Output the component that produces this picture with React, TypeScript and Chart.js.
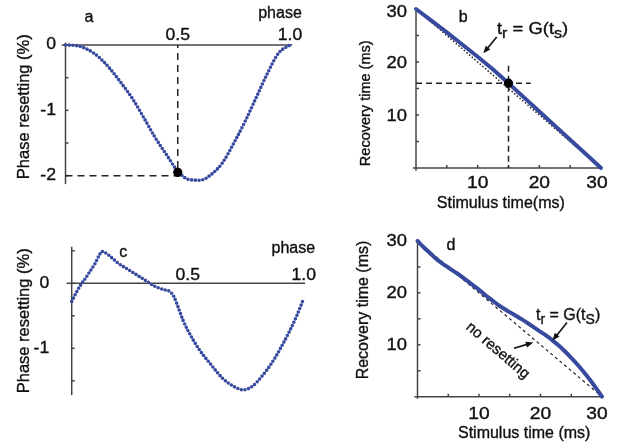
import React, { useEffect, useRef } from 'react';
import { Chart, registerables } from 'chart.js';

Chart.register(...registerables);

const FONT = '"Liberation Sans", Arial, Helvetica, sans-serif';
const BLUE = '#384a9e';
const AXIS = '#444444';
const INK = '#111111';
const W = 618;
const H = 447;

// ---------- Panel a : phase resetting curve ----------
const aPhase = [0, 0.05, 0.1, 0.15, 0.2, 0.25, 0.3, 0.35, 0.4, 0.45, 0.5, 0.55, 0.6, 0.65, 0.7, 0.75, 0.8, 0.85, 0.9, 0.95, 1.0];
const aReset = [0, -0.01, -0.07, -0.19, -0.37, -0.59, -0.83, -1.12, -1.42, -1.68, -1.93, -2.06, -2.07, -1.98, -1.8, -1.5, -1.17, -0.8, -0.43, -0.12, 0];
const aMarkPhase = [0.5];
const aMarkReset = [-1.95];
const aGuideLevel = [-2];
const aXTicks = [0.5, 1.0];
const aXTickLabels = ['0.5', '1.0'];
const aYTicks = [0, -1, -2];
const aYTickLabels = ['0', '-1', '-2'];
const aYMinorTicks = [0, -0.5, -1, -1.5, -2];

// ---------- Panel b : recovery vs stimulus time ----------
const bStim = [0, 2.5, 5, 7.5, 10, 12.5, 15, 17.5, 20, 22.5, 25, 27.5, 30];
const bRec = [30, 27.8, 25.6, 23.3, 21.0, 18.6, 16.0, 13.33, 10.67, 8.0, 5.33, 2.67, 0];
const bNoResetStim = [0, 30];
const bNoResetRec = [30, 0];
const bMarkStim = [15];
const bMarkRec = [16];
const bGuideEnd = [18.6, 19.3];
const bTicks = [10, 20, 30];
const bTickLabels = ['10', '20', '30'];
const bMinorTicks = [5, 10, 15, 20, 25];

// ---------- Panel c : phase resetting curve ----------
const cPhase = [0, 0.02, 0.04, 0.06, 0.08, 0.1, 0.12, 0.13, 0.14, 0.16, 0.18, 0.2, 0.24, 0.28, 0.32, 0.36, 0.4, 0.42, 0.44, 0.46, 0.48, 0.5, 0.55, 0.6, 0.65, 0.7, 0.74, 0.78, 0.82, 0.86, 0.9, 0.94, 0.97, 0.995];
const cReset = [-0.28, -0.14, -0.02, 0.08, 0.19, 0.3, 0.44, 0.49, 0.48, 0.43, 0.37, 0.31, 0.22, 0.13, 0.04, -0.05, -0.1, -0.12, -0.2, -0.38, -0.57, -0.72, -1.02, -1.25, -1.46, -1.59, -1.64, -1.58, -1.43, -1.24, -1.0, -0.73, -0.5, -0.28];
const cXTicks = [0.5, 1.0];
const cXTickLabels = ['0.5', '1.0'];
const cYTicks = [0, -1];
const cYTickLabels = ['0', '-1'];
const cYMinorTicks = [0.5, 0, -0.5, -1, -1.5];

// ---------- Panel d : recovery vs stimulus time ----------
const dStim = [0, 1, 2, 3, 4, 5, 6, 7, 8, 9, 10, 11, 12, 13, 14, 15, 16, 17, 18, 19, 20, 21, 22, 23, 24, 25, 26, 27, 28, 29, 30];
const dRec = [30, 28.8, 27.7, 26.6, 25.7, 24.9, 24.1, 23.3, 22.4, 21.5, 20.6, 19.6, 18.7, 17.8, 17.0, 16.3, 15.6, 14.9, 14.1, 13.3, 12.5, 11.7, 10.8, 9.8, 8.7, 7.5, 6.2, 4.8, 3.3, 1.7, 0];
const dNoResetStim = [0, 30];
const dNoResetRec = [30, 0];
const dTicks = [10, 20, 30];
const dTickLabels = ['10', '20', '30'];
const dMinorTicks = [5, 10, 15, 20, 25];

// ---------- helpers ----------
const pts = (xs: number[], ys: number[]) => xs.map((x, i) => ({ x, y: ys[i] }));

function txt(ctx: CanvasRenderingContext2D, s: string, x: number, y: number, o: any = {}) {
  const { size = 16, align = 'center', base = 'alphabetic', rot = 0, sx = 1, color = INK } = o;
  ctx.save();
  ctx.translate(x, y);
  if (rot) ctx.rotate(rot);
  if (sx !== 1) ctx.scale(sx, 1);
  ctx.font = `${size}px ${FONT}`;
  ctx.fillStyle = color;
  ctx.strokeStyle = color;
  ctx.lineWidth = 0.35;
  ctx.textAlign = align;
  ctx.textBaseline = base;
  ctx.fillText(s, 0, 0);
  ctx.strokeText(s, 0, 0);
  ctx.restore();
}

function rich(ctx: CanvasRenderingContext2D, parts: [string, boolean][], x: number, y: number, size: number, subSize: number, sx: number) {
  let cx = x;
  for (const [s, sub] of parts) {
    const sz = sub ? subSize : size;
    ctx.save();
    ctx.font = `${sz}px ${FONT}`;
    const w = ctx.measureText(s).width * sx;
    ctx.restore();
    txt(ctx, s, cx, sub ? y + 4 : y, { size: sz, align: 'left', sx });
    cx += w;
  }
}

function seg(ctx: CanvasRenderingContext2D, x1: number, y1: number, x2: number, y2: number, color = AXIS, w = 1.5) {
  ctx.save();
  ctx.strokeStyle = color;
  ctx.lineWidth = w;
  ctx.beginPath();
  ctx.moveTo(x1, y1);
  ctx.lineTo(x2, y2);
  ctx.stroke();
  ctx.restore();
}

function arrow(ctx: CanvasRenderingContext2D, x1: number, y1: number, x2: number, y2: number, w = 1.6, head = 8) {
  const a = Math.atan2(y2 - y1, x2 - x1);
  ctx.save();
  ctx.strokeStyle = INK;
  ctx.fillStyle = INK;
  ctx.lineWidth = w;
  ctx.beginPath();
  ctx.moveTo(x1, y1);
  ctx.lineTo(x2 - Math.cos(a) * head * 0.7, y2 - Math.sin(a) * head * 0.7);
  ctx.stroke();
  ctx.beginPath();
  ctx.moveTo(x2, y2);
  ctx.lineTo(x2 - head * Math.cos(a - 0.38), y2 - head * Math.sin(a - 0.38));
  ctx.lineTo(x2 - head * Math.cos(a + 0.38), y2 - head * Math.sin(a + 0.38));
  ctx.closePath();
  ctx.fill();
  ctx.restore();
}

type Draw = (ctx: CanvasRenderingContext2D, X: (v: number) => number, Y: (v: number) => number) => void;

function decor(under: Draw, over: Draw) {
  const run = (chart: any, fn: Draw) => {
    const ctx = chart.ctx as CanvasRenderingContext2D;
    const X = (v: number) => chart.scales.x.getPixelForValue(v);
    const Y = (v: number) => chart.scales.y.getPixelForValue(v);
    ctx.save();
    fn(ctx, X, Y);
    ctx.restore();
  };
  return {
    id: 'decor',
    beforeDatasetsDraw(chart: any) { run(chart, under); },
    afterDatasetsDraw(chart: any) { run(chart, over); },
  };
}

// plot area given in page pixels: left, right, top, bottom
function baseOptions(area: [number, number, number, number], xr: [number, number], yr: [number, number]) {
  return {
    responsive: false,
    animation: false,
    devicePixelRatio: 1,
    events: [],
    layout: { padding: { left: area[0], right: W - area[1], top: area[2], bottom: H - area[3] } },
    plugins: { legend: { display: false }, tooltip: { enabled: false }, title: { display: false } },
    scales: {
      x: { type: 'linear', min: xr[0], max: xr[1], display: false },
      y: { type: 'linear', min: yr[0], max: yr[1], display: false },
    },
  };
}

const dotted = {
  borderColor: BLUE,
  borderWidth: 3.6,
  borderDash: [0, 3.7],
  borderCapStyle: 'round',
  pointRadius: 0,
  cubicInterpolationMode: 'monotone',
  fill: false,
  clip: false,
};

const markDot = {
  showLine: false,
  pointRadius: 4.6,
  pointBackgroundColor: '#000',
  pointBorderColor: '#000',
  pointBorderWidth: 0,
  clip: false,
};

const guide = (dash: number[], w = 1.5) => ({
  borderColor: '#222',
  borderWidth: w,
  borderDash: dash,
  pointRadius: 0,
  fill: false,
  tension: 0,
  clip: false,
});

// ---------- chart configs ----------
function configA() {
  return {
    type: 'line',
    data: {
      datasets: [
        { ...markDot, data: pts(aMarkPhase, aMarkReset) },
        { ...dotted, data: pts(aPhase, aReset) },
        { ...guide([7, 5]), data: [{ x: 0, y: aGuideLevel[0] }, { x: aMarkPhase[0], y: aGuideLevel[0] }, { x: aMarkPhase[0], y: 0 }] },
      ],
    },
    options: baseOptions([65.5, 290, 38.5, 188.7], [0, 1], [-2.2, 0.1]),
    plugins: [
      decor(
        (ctx, X, Y) => {
          const x0 = X(0), y0 = Y(0);
          seg(ctx, X(-0.017), y0, X(1.01), y0);
          seg(ctx, x0, Y(0.035), x0, Y(-2.13));
          aYMinorTicks.forEach((v) => seg(ctx, x0, Y(v), x0 + 3, Y(v)));
        },
        (ctx, X, Y) => {
          const x0 = X(0), y0 = Y(0);
          aYTicks.forEach((v, i) => txt(ctx, aYTickLabels[i], x0 - 9.5, Y(v), { align: 'right', base: 'middle', sx: 1.1 }));
          aXTicks.forEach((v, i) => txt(ctx, aXTickLabels[i], X(v), y0 - 5.5, { sx: 1.1 }));
          txt(ctx, 'phase', 280, 17.5);
          txt(ctx, 'a', 89, 21.5);
          txt(ctx, 'Phase resetting (%)', 28.5, 106.7, { rot: -Math.PI / 2, size: 16.5 });
        }
      ),
    ],
  };
}

function configB() {
  return {
    type: 'line',
    data: {
      datasets: [
        { ...markDot, data: pts(bMarkStim, bMarkRec) },
        { borderColor: BLUE, borderWidth: 4, pointRadius: 0, tension: 0, fill: false, clip: false, borderCapStyle: 'round', data: pts(bStim, bRec) },
        { ...guide([1.5, 2], 1.5), data: pts(bNoResetStim, bNoResetRec) },
        { ...guide([6, 4]), data: [{ x: 0, y: bMarkRec[0] }, { x: bGuideEnd[0], y: bMarkRec[0] }] },
        { ...guide([6, 4]), data: [{ x: bMarkStim[0], y: bGuideEnd[1] }, { x: bMarkStim[0], y: 0 }] },
      ],
    },
    options: baseOptions([416, 601, 9, 168], [0, 30], [0, 30]),
    plugins: [
      decor(
        (ctx, X, Y) => {
          const x0 = X(0), y0 = Y(0);
          seg(ctx, X(-0.5), y0, X(30), y0);
          seg(ctx, x0, Y(30.2), x0, Y(-0.5));
          bMinorTicks.forEach((v) => {
            seg(ctx, X(v), y0, X(v), y0 - 3);
            seg(ctx, x0, Y(v), x0 + 3, Y(v));
          });
        },
        (ctx, X, Y) => {
          const x0 = X(0), y0 = Y(0);
          bTicks.forEach((v, i) => txt(ctx, bTickLabels[i], x0 - 9, Y(v) + (v === 30 ? 4 : 2), { align: 'right', base: 'middle', sx: 1.15 }));
          bTicks.forEach((v, i) => txt(ctx, bTickLabels[i], X(v) - (v === 30 ? 4 : 0), y0 + 20.3, { sx: 1.2 }));
          txt(ctx, 'Stimulus time(ms)', 500.8, 208);
          txt(ctx, 'Recovery time (ms)', 370, 103.3, { rot: -Math.PI / 2, size: 14.5 });
          txt(ctx, 'b', 463.3, 21.7);
          rich(ctx, [['t', false], ['r', true], [' = G(t', false], ['s', true], [')', false]], 497, 34, 16, 14, 1.15);
          arrow(ctx, 496.7, 37, 483.3, 53.3);
        }
      ),
    ],
  };
}

function configC() {
  return {
    type: 'line',
    data: {
      datasets: [{ ...dotted, data: pts(cPhase, cReset) }],
    },
    options: baseOptions([71.7, 303.7, 244.3, 400.3], [0, 1], [-1.8, 0.6]),
    plugins: [
      decor(
        (ctx, X, Y) => {
          const x0 = X(0), y0 = Y(0);
          seg(ctx, X(-0.022), y0, X(1.006), y0);
          seg(ctx, x0, Y(0.563), x0, Y(-1.72));
          cYMinorTicks.forEach((v) => seg(ctx, x0, Y(v), x0 + 3, Y(v)));
        },
        (ctx, X, Y) => {
          const x0 = X(0), y0 = Y(0);
          cYTicks.forEach((v, i) => txt(ctx, cYTickLabels[i], x0 - 22.5, Y(v), { align: 'right', base: 'middle', sx: 1.1 }));
          cXTicks.forEach((v, i) => txt(ctx, cXTickLabels[i], X(v), y0 - 3.3, { sx: 1.1 }));
          txt(ctx, 'phase', 293.3, 253.3);
          txt(ctx, 'c', 123.3, 256.5);
          txt(ctx, 'Phase resetting (%)', 28.5, 320.8, { rot: -Math.PI / 2, size: 16.5 });
        }
      ),
    ],
  };
}

function configD() {
  return {
    type: 'line',
    data: {
      datasets: [
        { borderColor: BLUE, borderWidth: 4, pointRadius: 0, cubicInterpolationMode: 'monotone', fill: false, clip: false, borderCapStyle: 'round', data: pts(dStim, dRec) },
        { ...guide([3, 3], 1.2), data: pts(dNoResetStim, dNoResetRec) },
      ],
    },
    options: baseOptions([417.5, 602, 241, 396.7], [0, 30], [0, 30]),
    plugins: [
      decor(
        (ctx, X, Y) => {
          const x0 = X(0), y0 = Y(0);
          seg(ctx, X(-0.5), y0, X(30), y0);
          seg(ctx, x0, Y(30.4), x0, Y(-0.4));
          dMinorTicks.forEach((v) => {
            seg(ctx, X(v), y0, X(v), y0 - 3);
            seg(ctx, x0, Y(v), x0 + 3, Y(v));
          });
        },
        (ctx, X, Y) => {
          const x0 = X(0), y0 = Y(0);
          dTicks.forEach((v, i) => txt(ctx, dTickLabels[i], x0 - 10.5, Y(v) + 1, { align: 'right', base: 'middle', sx: 1.15 }));
          dTicks.forEach((v, i) => txt(ctx, dTickLabels[i], X(v) - (v === 30 ? 5 : 0), y0 + 22.3, { sx: 1.2 }));
          txt(ctx, 'Stimulus time (ms)', 524.2, 438);
          txt(ctx, 'Recovery time (ms)', 368, 310, { rot: -Math.PI / 2 });
          txt(ctx, 'd', 451, 249.5);
          rich(ctx, [['t', false], ['r', true], [' = G(t', false], ['S', true], [')', false]], 536, 320, 16, 14, 1.0);
          arrow(ctx, 567, 322.5, 552.5, 340.5);
          txt(ctx, 'no resetting', 497.7, 350.7, { rot: (40.6 * Math.PI) / 180, size: 15, base: 'middle' });
          arrow(ctx, 514, 348.3, 533.3, 342.5);
        }
      ),
    ],
  };
}

function Panel({ build }: { build: () => any }) {
  const ref = useRef<HTMLCanvasElement>(null);
  useEffect(() => {
    const chart = new Chart(ref.current as HTMLCanvasElement, build());
    return () => chart.destroy();
  }, []);
  return <canvas ref={ref} width={W} height={H} style={{ position: 'absolute', left: 0, top: 0, width: W, height: H }} />;
}

export default function App() {
  return (
    <div style={{ position: 'fixed', left: 0, top: 0, width: W, height: H, background: '#fff', overflow: 'hidden' }}>
      <Panel build={configA} />
      <Panel build={configB} />
      <Panel build={configC} />
      <Panel build={configD} />
    </div>
  );
}
